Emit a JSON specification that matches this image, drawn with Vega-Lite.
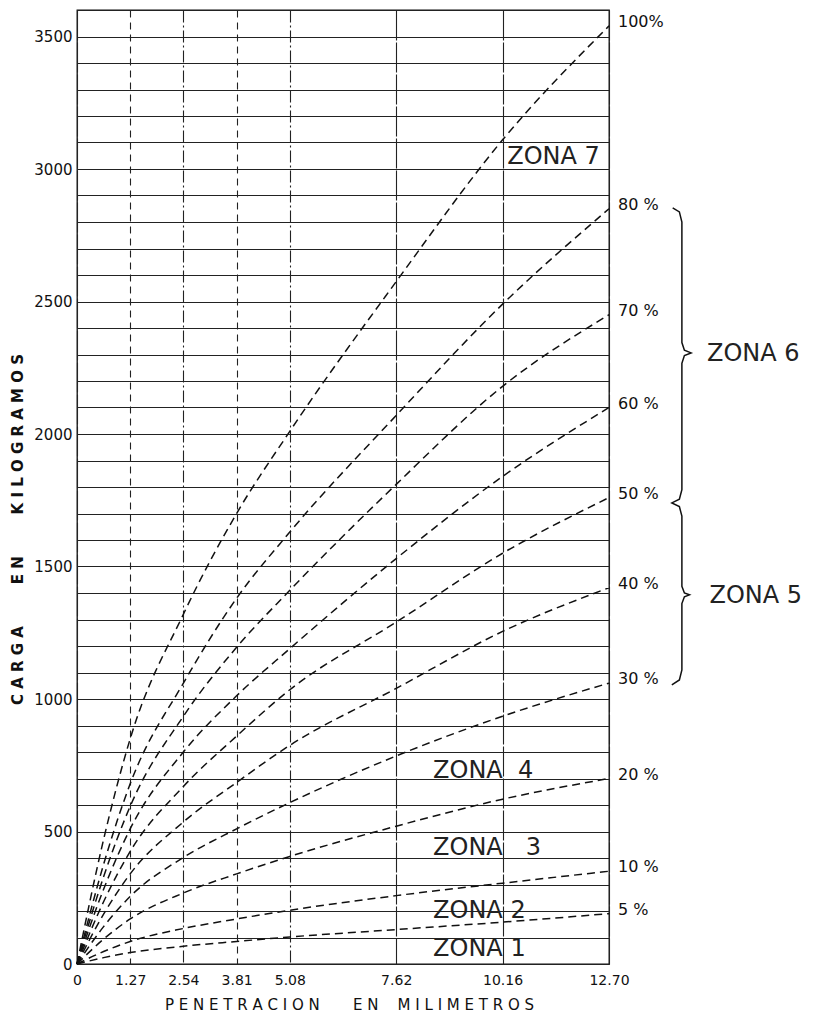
{
  "$schema": "https://vega.github.io/schema/vega-lite/v6.json",
  "width": 532,
  "height": 954,
  "autosize": {"type": "none"},
  "padding": {"left": 77, "top": 10, "right": 207, "bottom": 52},
  "background": "white",
  "config": {
    "view": {"stroke": "#111", "strokeWidth": 1.3},
    "font": "DejaVu Sans",
    "text": {"font": "DejaVu Sans", "color": "#111"}
  },
  "datasets": {
    "curves": [
      {"c": "100", "x": 0, "y": 0}, {"c": "100", "x": 0.635, "y": 470}, {"c": "100", "x": 1.27, "y": 850}, {"c": "100", "x": 2.54, "y": 1320}, {"c": "100", "x": 3.81, "y": 1700}, {"c": "100", "x": 5.08, "y": 2010}, {"c": "100", "x": 7.62, "y": 2575}, {"c": "100", "x": 10.16, "y": 3110}, {"c": "100", "x": 12.7, "y": 3540},
      {"c": "80", "x": 0, "y": 0}, {"c": "80", "x": 0.635, "y": 376}, {"c": "80", "x": 1.27, "y": 680}, {"c": "80", "x": 2.54, "y": 1060}, {"c": "80", "x": 3.81, "y": 1380}, {"c": "80", "x": 5.08, "y": 1630}, {"c": "80", "x": 7.62, "y": 2070}, {"c": "80", "x": 10.16, "y": 2490}, {"c": "80", "x": 12.7, "y": 2850},
      {"c": "70", "x": 0, "y": 0}, {"c": "70", "x": 0.635, "y": 329}, {"c": "70", "x": 1.27, "y": 595}, {"c": "70", "x": 2.54, "y": 935}, {"c": "70", "x": 3.81, "y": 1195}, {"c": "70", "x": 5.08, "y": 1410}, {"c": "70", "x": 7.62, "y": 1810}, {"c": "70", "x": 10.16, "y": 2180}, {"c": "70", "x": 12.7, "y": 2450},
      {"c": "60", "x": 0, "y": 0}, {"c": "60", "x": 0.635, "y": 282}, {"c": "60", "x": 1.27, "y": 510}, {"c": "60", "x": 2.54, "y": 800}, {"c": "60", "x": 3.81, "y": 1012}, {"c": "60", "x": 5.08, "y": 1190}, {"c": "60", "x": 7.62, "y": 1530}, {"c": "60", "x": 10.16, "y": 1840}, {"c": "60", "x": 12.7, "y": 2100},
      {"c": "50", "x": 0, "y": 0}, {"c": "50", "x": 0.635, "y": 235}, {"c": "50", "x": 1.27, "y": 425}, {"c": "50", "x": 2.54, "y": 670}, {"c": "50", "x": 3.81, "y": 860}, {"c": "50", "x": 5.08, "y": 1035}, {"c": "50", "x": 7.62, "y": 1290}, {"c": "50", "x": 10.16, "y": 1550}, {"c": "50", "x": 12.7, "y": 1760},
      {"c": "40", "x": 0, "y": 0}, {"c": "40", "x": 0.635, "y": 188}, {"c": "40", "x": 1.27, "y": 340}, {"c": "40", "x": 2.54, "y": 536}, {"c": "40", "x": 3.81, "y": 685}, {"c": "40", "x": 5.08, "y": 825}, {"c": "40", "x": 7.62, "y": 1040}, {"c": "40", "x": 10.16, "y": 1255}, {"c": "40", "x": 12.7, "y": 1420},
      {"c": "30", "x": 0, "y": 0}, {"c": "30", "x": 0.635, "y": 141}, {"c": "30", "x": 1.27, "y": 255}, {"c": "30", "x": 2.54, "y": 402}, {"c": "30", "x": 3.81, "y": 510}, {"c": "30", "x": 5.08, "y": 609}, {"c": "30", "x": 7.62, "y": 785}, {"c": "30", "x": 10.16, "y": 935}, {"c": "30", "x": 12.7, "y": 1060},
      {"c": "20", "x": 0, "y": 0}, {"c": "20", "x": 0.635, "y": 94}, {"c": "20", "x": 1.27, "y": 170}, {"c": "20", "x": 2.54, "y": 268}, {"c": "20", "x": 3.81, "y": 340}, {"c": "20", "x": 5.08, "y": 406}, {"c": "20", "x": 7.62, "y": 520}, {"c": "20", "x": 10.16, "y": 622}, {"c": "20", "x": 12.7, "y": 700},
      {"c": "10", "x": 0, "y": 0}, {"c": "10", "x": 0.635, "y": 47}, {"c": "10", "x": 1.27, "y": 85}, {"c": "10", "x": 2.54, "y": 134}, {"c": "10", "x": 3.81, "y": 170}, {"c": "10", "x": 5.08, "y": 203}, {"c": "10", "x": 7.62, "y": 258}, {"c": "10", "x": 10.16, "y": 305}, {"c": "10", "x": 12.7, "y": 350},
      {"c": "5", "x": 0, "y": 0}, {"c": "5", "x": 0.635, "y": 24}, {"c": "5", "x": 1.27, "y": 43}, {"c": "5", "x": 2.54, "y": 67}, {"c": "5", "x": 3.81, "y": 85}, {"c": "5", "x": 5.08, "y": 102}, {"c": "5", "x": 7.62, "y": 130}, {"c": "5", "x": 10.16, "y": 158}, {"c": "5", "x": 12.7, "y": 190}
    ],
    "ends": [
      {"t": "100%", "x": 12.7, "y": 3540},
      {"t": "80 %", "x": 12.7, "y": 2850},
      {"t": "70 %", "x": 12.7, "y": 2450},
      {"t": "60 %", "x": 12.7, "y": 2100},
      {"t": "50 %", "x": 12.7, "y": 1760},
      {"t": "40 %", "x": 12.7, "y": 1420},
      {"t": "30 %", "x": 12.7, "y": 1060},
      {"t": "20 %", "x": 12.7, "y": 700},
      {"t": "10 %", "x": 12.7, "y": 350},
      {"t": "5 %", "x": 12.7, "y": 190}
    ],
    "zones": [
      {"t": "ZONA 7", "x": 10.27, "y": 3046},
      {"t": "ZONA 6", "x": 15.04, "y": 2302},
      {"t": "ZONA 5", "x": 15.1, "y": 1389},
      {"t": "ZONA\u00a0\u00a04", "x": 8.5, "y": 728},
      {"t": "ZONA\u00a0\u00a0\u00a03", "x": 8.5, "y": 438},
      {"t": "ZONA 2", "x": 8.5, "y": 200},
      {"t": "ZONA 1", "x": 8.5, "y": 57}
    ],
    "brace": [
      {"o": 1, "x": 14.22, "y": 2853}, {"o": 2, "x": 14.38, "y": 2838}, {"o": 3, "x": 14.44, "y": 2800},
      {"o": 4, "x": 14.44, "y": 2345}, {"o": 5, "x": 14.5, "y": 2316}, {"o": 6, "x": 14.66, "y": 2306},
      {"o": 7, "x": 14.5, "y": 2296}, {"o": 8, "x": 14.44, "y": 2267}, {"o": 9, "x": 14.44, "y": 1790},
      {"o": 10, "x": 14.38, "y": 1754}, {"o": 11, "x": 14.2, "y": 1740}, {"o": 12, "x": 14.38, "y": 1726},
      {"o": 13, "x": 14.44, "y": 1690}, {"o": 14, "x": 14.44, "y": 1425}, {"o": 15, "x": 14.5, "y": 1400},
      {"o": 16, "x": 14.62, "y": 1393}, {"o": 17, "x": 14.5, "y": 1386}, {"o": 18, "x": 14.44, "y": 1360},
      {"o": 19, "x": 14.44, "y": 1110}, {"o": 20, "x": 14.38, "y": 1072}, {"o": 21, "x": 14.2, "y": 1053}
    ]
  },
  "encoding": {
    "x": {
      "field": "x", "type": "quantitative",
      "scale": {"domain": [0, 12.7], "nice": false, "zero": false},
      "axis": {
        "values": [0, 1.27, 2.54, 3.81, 5.08, 7.62, 10.16, 12.7],
        "labelExpr": "datum.value == 0 ? '0' : format(datum.value, '.2f')",
        "grid": true, "gridColor": "#222", "gridOpacity": 1, "gridWidth": 1.1,
        "gridDash": {
          "condition": [
            {"test": "datum.value == 1.27 || datum.value == 3.81", "value": [7, 5]},
            {"test": "datum.value == 2.54 || datum.value == 5.08", "value": [12, 3, 2, 3]}
          ],
          "value": [30, 2]
        },
        "ticks": false, "domain": false,
        "labelFlush": false, "labelOverlap": false,
        "labelFont": "DejaVu Sans", "labelFontSize": 14, "labelColor": "#111", "labelPadding": 9,
        "title": "P E N E T R A C I O N \u00a0\u00a0\u00a0\u00a0\u00a0 E N \u00a0\u00a0 M I L I M E T R O S",
        "titleFont": "DejaVu Sans", "titleFontSize": 15, "titleFontWeight": "normal", "titleColor": "#111",
        "titleX": 272, "titleY": 40, "titleBaseline": "middle", "titleAlign": "center"
      }
    },
    "y": {
      "field": "y", "type": "quantitative",
      "scale": {"domain": [0, 3600], "nice": false, "zero": true},
      "axis": {
        "values": [0, 100, 200, 300, 400, 500, 600, 700, 800, 900, 1000, 1100, 1200, 1300, 1400, 1500, 1600, 1700, 1800, 1900, 2000, 2100, 2200, 2300, 2400, 2500, 2600, 2700, 2800, 2900, 3000, 3100, 3200, 3300, 3400, 3500, 3600],
        "format": "d",
        "labelExpr": "datum.value % 500 == 0 ? datum.label : ''",
        "grid": true, "gridColor": "#222", "gridWidth": 1, "gridOpacity": 1,
        "ticks": false, "domain": false,
        "labelFlush": false, "labelOverlap": false,
        "labelFont": "DejaVu Sans", "labelFontSize": 15, "labelColor": "#111", "labelPadding": 5,
        "title": "C A R G A \u00a0\u00a0\u00a0\u00a0\u00a0\u00a0 E N \u00a0\u00a0\u00a0\u00a0\u00a0\u00a0 K I L O G R A M O S",
        "titleFont": "DejaVu Sans", "titleFontSize": 15, "titleFontWeight": "bold", "titleColor": "#111",
        "titleAngle": 270, "titleX": -60, "titleY": 519, "titleBaseline": "middle", "titleAlign": "center"
      }
    }
  },
  "layer": [
    {
      "data": {"name": "curves"},
      "mark": {"type": "line", "strokeDash": [8, 5], "strokeWidth": 1.5, "color": "#111", "interpolate": "monotone"},
      "encoding": {"detail": {"field": "c", "type": "nominal"}}
    },
    {
      "data": {"name": "ends"},
      "mark": {"type": "text", "align": "left", "baseline": "middle", "dx": 9, "dy": -4, "fontSize": 16, "font": "DejaVu Sans", "color": "#111"},
      "encoding": {"text": {"field": "t"}}
    },
    {
      "data": {"name": "zones"},
      "mark": {"type": "text", "align": "left", "baseline": "middle", "fontSize": 24, "font": "DejaVu Sans", "color": "#222"},
      "encoding": {"text": {"field": "t"}}
    },
    {
      "data": {"name": "brace"},
      "mark": {"type": "line", "color": "#111", "strokeWidth": 1.5},
      "encoding": {"order": {"field": "o", "type": "quantitative"}}
    }
  ]
}
